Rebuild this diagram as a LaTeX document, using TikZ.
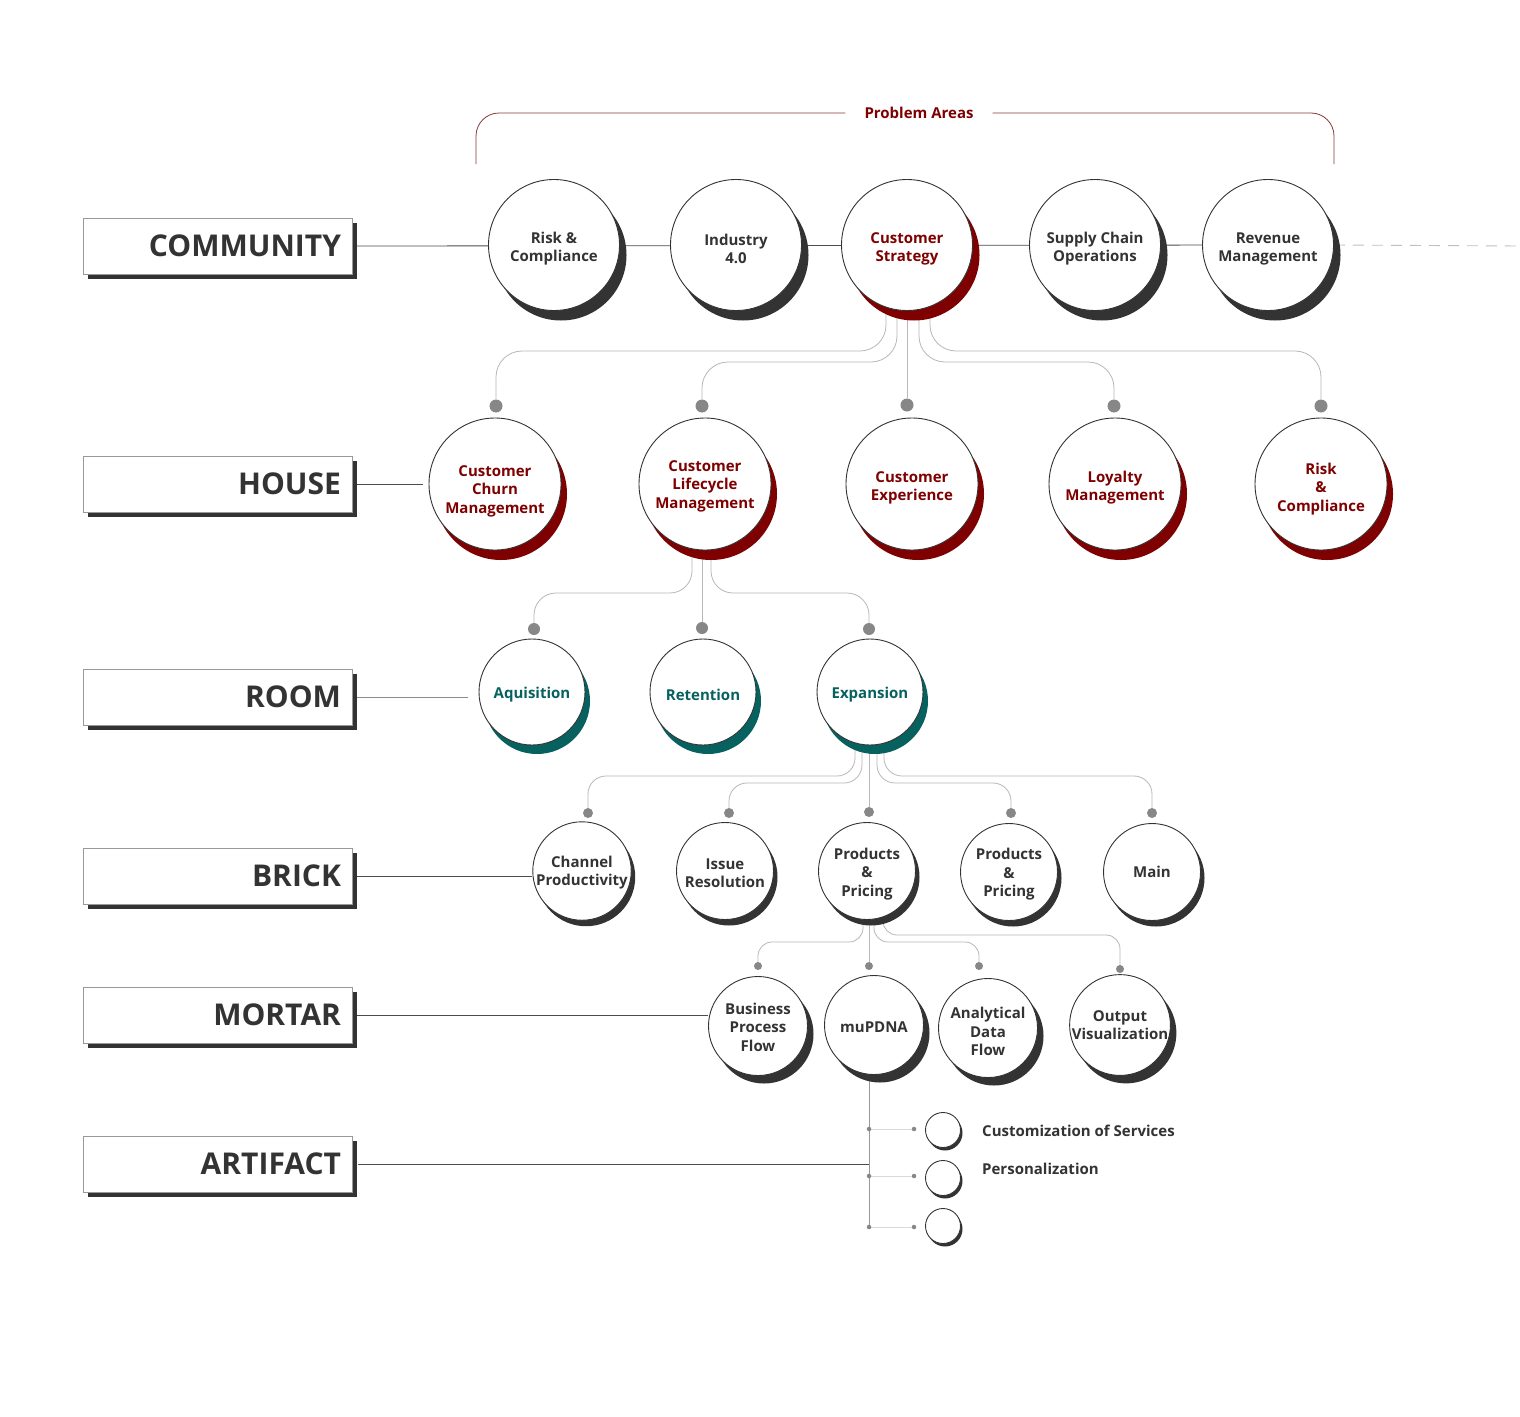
\documentclass[tikz,border=0pt]{standalone}
\usepackage{fontspec}
\setmainfont{Open Sans}
\usetikzlibrary{shadows,backgrounds}
\definecolor{ink}{HTML}{333333}
\definecolor{wine}{HTML}{7F0000}
\definecolor{roomteal}{HTML}{07615F}
\definecolor{bracketred}{HTML}{8A3A3A}

\begin{document}
\begin{tikzpicture}[x=1pt,y=1pt]
\tikzstyle{every node}+=[inner sep=0pt, align=center, font=\bfseries\fontsize{15}{18.5}\selectfont]
\tikzstyle{tier}=[draw=black!40, line width=0.8pt, fill=white, minimum width=269pt, minimum height=56pt, text width=247pt, align=right, text=ink, font=\bfseries\fontsize{30}{36}\selectfont, drop shadow={shadow xshift=5pt, shadow yshift=-5pt, fill=ink, opacity=1}]
\tikzstyle{bubble}=[circle, draw=ink, line width=0.9pt, fill=white, text=ink]
\tikzstyle{area}=[bubble, minimum size=131pt, execute at begin node={\rule{0pt}{37.5pt}}, drop shadow={shadow xshift=7pt, shadow yshift=-10pt, fill=ink, opacity=1}]
\tikzstyle{key area}=[bubble, minimum size=131pt, text=wine, execute at begin node={\rule{0pt}{37.5pt}}, drop shadow={shadow xshift=7pt, shadow yshift=-10pt, fill=wine, opacity=1}]
\tikzstyle{house bubble}=[bubble, minimum size=132pt, text=wine, execute at begin node={\rule{0pt}{37.5pt}}, drop shadow={shadow xshift=6pt, shadow yshift=-10pt, fill=wine, opacity=1}]
\tikzstyle{room bubble}=[bubble, minimum size=106pt, text=roomteal, execute at begin node={\rule{0pt}{17pt}}, drop shadow={shadow xshift=5pt, shadow yshift=-9pt, fill=roomteal, opacity=1}]
\tikzstyle{brick bubble}=[bubble, minimum size=97pt, drop shadow={shadow xshift=4pt, shadow yshift=-6pt, fill=ink, opacity=1}]
\tikzstyle{mortar bubble}=[bubble, minimum size=99pt, drop shadow={shadow xshift=6pt, shadow yshift=-8pt, fill=ink, opacity=1}]
\tikzstyle{artifact bubble}=[bubble, minimum size=35pt, drop shadow={shadow xshift=2pt, shadow yshift=-3pt, fill=ink, opacity=1}]
\tikzstyle{knob}=[circle, fill=black!47, minimum size=12pt]
\tikzstyle{tier line}=[draw=black!70, line width=0.8pt]
\tikzstyle{link}=[draw=black!28, line width=0.8pt]
\tikzstyle{tick}=[draw=black!15, line width=0.7pt]
\tikzstyle{trail}=[draw=black!25, line width=0.9pt, dash pattern=on 11pt off 8pt]
\tikzstyle{bracket}=[draw=bracketred, line width=0.8pt, rounded corners=23pt]
\useasboundingbox (0,0) rectangle (1520,-1416);

\node[tier] (community) at (217.5,-246) {COMMUNITY};
\node[tier] (house) at (217.5,-484) {HOUSE};
\node[tier] (room) at (217.5,-697) {ROOM};
\node[tier] (brick) at (217.5,-876) {BRICK};
\node[tier] (mortar) at (217.5,-1015) {MORTAR};
\node[tier] (artifact) at (217.5,-1164) {ARTIFACT};

\node[inner xsep=19pt, text=wine] (problem) at (919,-113) {Problem Areas};
\coordinate (bl) at (476,-164);
\coordinate (br) at (1334,-164);
\coordinate (dashend) at (1520,-246);

\node[area] (risk) at (554,-245) {Risk \&\\Compliance};
\node[area] (industry) at (736,-245) {Industry\\4.0};
\node[key area] (strategy) at (907,-245) {Customer\\Strategy};
\node[area] (supply) at (1095,-245) {Supply Chain\\Operations};
\node[area] (revenue) at (1268,-245) {Revenue\\Management};

\node[knob, minimum size=13pt] (kchurn) at (496,-406) {};
\node[knob, minimum size=13pt] (klife) at (702,-406) {};
\node[knob, minimum size=13pt] (kexp) at (907,-405) {};
\node[knob, minimum size=13pt] (kloyal) at (1114,-406) {};
\node[knob, minimum size=13pt] (kriskc) at (1321,-406) {};
\node[house bubble, execute at begin node={\rule{0pt}{62pt}}] (churn) at (495,-484) {Customer\\Churn\\Management};
\node[house bubble, execute at begin node={\rule{0pt}{52pt}}] (lifecycle) at (705,-484) {Customer\\Lifecycle\\Management};
\node[house bubble] (experience) at (912,-484) {Customer\\Experience};
\node[house bubble] (loyalty) at (1115,-484) {Loyalty\\Management};
\node[house bubble, execute at begin node={\rule{0pt}{58pt}}] (riskc) at (1321,-484) {Risk\\\&\\Compliance};
\coordinate (houseend) at (423,-484);

\node[knob] (kaq) at (534,-629) {};
\node[knob] (kret) at (702,-628) {};
\node[knob] (kexpa) at (869,-629) {};
\node[room bubble] (aquisition) at (532,-692) {Aquisition};
\node[room bubble] (retention) at (703,-692) {Retention};
\node[room bubble] (expansion) at (870,-692) {Expansion};
\coordinate (roomend) at (468,-697);

\node[knob, minimum size=10pt] (kchan) at (588,-813) {};
\node[knob, minimum size=10pt] (kissue) at (729,-813) {};
\node[knob, minimum size=10pt] (kpp) at (869,-812) {};
\node[knob, minimum size=10pt] (kpq) at (1011,-813) {};
\node[knob, minimum size=10pt] (kmain) at (1152,-813) {};
\node[brick bubble, execute at begin node={\rule{0pt}{33.5pt}}] (channel) at (582,-871) {Channel\\Productivity};
\node[brick bubble, execute at begin node={\rule{0pt}{33.5pt}}] (issue) at (725,-871) {Issue\\Resolution};
\node[brick bubble, execute at begin node={\rule{0pt}{54pt}}] (pricing) at (867,-871) {Products\\\&\\Pricing};
\node[brick bubble, execute at begin node={\rule{0pt}{53pt}}] (pricingb) at (1009,-872) {Products\\\&\\Pricing};
\node[brick bubble] (main) at (1152,-872) {Main};

\node[knob, minimum size=8pt] (kproc) at (758,-966) {};
\node[knob, minimum size=8pt] (kmu) at (869,-966) {};
\node[knob, minimum size=8pt] (kdata) at (979,-966) {};
\node[knob, minimum size=8pt] (kout) at (1120,-969) {};
\node[mortar bubble, execute at begin node={\rule{0pt}{51pt}}] (process) at (758,-1026) {Business\\Process\\Flow};
\node[mortar bubble, execute at begin node={\rule{0pt}{15pt}}] (mupdna) at (874,-1025) {muPDNA};
\node[mortar bubble, execute at begin node={\rule{0pt}{56pt}}] (dataflow) at (988,-1028) {Analytical\\Data\\Flow};
\node[mortar bubble] (output) at (1120,-1025) {Output\\Visualization};

\coordinate (aend) at (869,-1227);
\node[knob, minimum size=4.5pt] (ta) at (869,-1129) {};
\node[knob, minimum size=4.5pt] (tb) at (869,-1176) {};
\node[knob, minimum size=4.5pt] (tc) at (869,-1227) {};
\node[knob, minimum size=4.5pt] (ua) at (914,-1129) {};
\node[knob, minimum size=4.5pt] (ub) at (914,-1176) {};
\node[knob, minimum size=4.5pt] (uc) at (914,-1227) {};
\node[artifact bubble] (custom) at (943,-1130) {};
\node[artifact bubble] (person) at (943,-1178) {};
\node[artifact bubble] (blank) at (943,-1226) {};
\node[anchor=west, text=ink] (customtext) at (982,-1131) {Customization of Services};
\node[anchor=west, text=ink] (persontext) at (982,-1169) {Personalization};

\begin{scope}[on background layer]
\fill[white] (0,0) rectangle (1520,-1416);
\draw[bracket] (problem.west) -| (bl);
\draw[bracket] (problem.east) -| (br);
\draw[trail] (revenue.east) -- (dashend);
\draw[tier line] (community.east) -- (revenue.center);
\draw[tier line] (house.east) -- (houseend);
\draw[tier line, draw=black!45] (room.east) -- (roomend);
\draw[tier line] (brick.east) -- (brick.east -| channel.west);
\draw[tier line] (mortar.east) -- (mortar.east -| process.west);
\draw[tier line] ([xshift=6pt]artifact.east) -- (artifact.east -| aend);

\draw[link, rounded corners=26pt] ([xshift=-21pt]strategy.center) -- ++(0,-106) -| (kchurn);
\draw[link, rounded corners=26pt] ([xshift=-10pt]strategy.center) -- ++(0,-117) -| (klife);
\draw[link] (strategy.center) -- (kexp);
\draw[link, rounded corners=26pt] ([xshift=12pt]strategy.center) -- ++(0,-117) -| (kloyal);
\draw[link, rounded corners=26pt] ([xshift=23pt]strategy.center) -- ++(0,-106) -| (kriskc);

\draw[link, rounded corners=22pt] ([xshift=-13pt]lifecycle.center) -- ++(0,-109) -| (kaq);
\draw[link] ([xshift=-3pt]lifecycle.center) -- (kret);
\draw[link, rounded corners=22pt] ([xshift=6pt]lifecycle.center) -- ++(0,-109) -| (kexpa);

\draw[link, rounded corners=18pt] ([xshift=-15pt]expansion.center) -- ++(0,-84) -| (kchan);
\draw[link, rounded corners=18pt] ([xshift=-8pt]expansion.center) -- ++(0,-91) -| (kissue);
\draw[link] ([xshift=-1pt]expansion.center) -- (kpp);
\draw[link, rounded corners=18pt] ([xshift=7pt]expansion.center) -- ++(0,-91) -| (kpq);
\draw[link, rounded corners=18pt] ([xshift=14pt]expansion.center) -- ++(0,-84) -| (kmain);

\draw[link, rounded corners=14pt] ([xshift=-4pt]pricing.center) -- ++(0,-71) -| (kproc);
\draw[link] ([xshift=2pt]pricing.center) -- (kmu);
\draw[link, rounded corners=14pt] ([xshift=7pt]pricing.center) -- ++(0,-71) -| (kdata);
\draw[link, rounded corners=14pt] ([xshift=16pt]pricing.center) -- ++(0,-64) -| (kout);

\draw[link, draw=black!40] ([xshift=-5pt]mupdna.center) -- (aend);
\draw[tick] (ta) -- (ua);
\draw[tick] (tb) -- (ub);
\draw[tick] (tc) -- (uc);
\end{scope}
\end{tikzpicture}
\end{document}
